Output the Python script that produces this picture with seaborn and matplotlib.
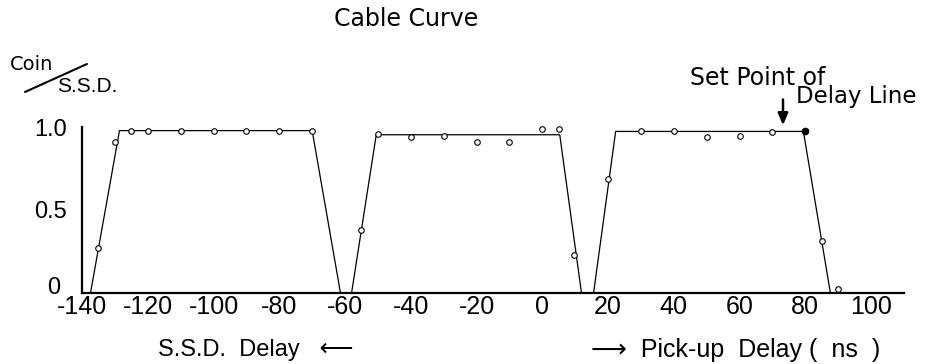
import matplotlib
matplotlib.use('Agg')
import matplotlib.pyplot as plt
from matplotlib.lines import Line2D
from matplotlib.transforms import ScaledTranslation
import seaborn as sns
import pandas as pd

# ---- data ----
pts1_x = [-135, -130, -125, -120, -110, -100, -90, -80, -70]
pts1_y = [0.27, 0.91, 0.98, 0.98, 0.98, 0.98, 0.98, 0.98, 0.98]
pts2_x = [-55, -50, -40, -30, -20, -10, 0, 5, 9.5]
pts2_y = [0.38, 0.96, 0.94, 0.95, 0.91, 0.91, 0.99, 0.99, 0.23]
pts3_x = [20, 30, 40, 50, 60, 70, 85, 90]
pts3_y = [0.69, 0.98, 0.98, 0.94, 0.95, 0.97, 0.31, 0.02]
set_point_x = [80]
set_point_y = [0.975]

fit1_x = [-137.4, -128.6, -70, -61.4]
fit1_y = [0, 0.98, 0.98, 0]
fit2_x = [-58, -50.5, 5.3, 11.9]
fit2_y = [0, 0.955, 0.955, 0]
fit3_x = [15.6, 22.3, 79.4, 87.6]
fit3_y = [0, 0.975, 0.975, 0]

x_ticks = [-140, -120, -100, -80, -60, -40, -20, 0, 20, 40, 60, 80, 100]
x_tick_labels = ['-140', '-120', '-100', '-80', '-60', '-40', '-20', '0', '20', '40', '60', '80', '100']
y_ticks = [0, 0.5, 1.0]
y_tick_labels = ['0', '0.5', '1.0']
arrow_x = 73.2

# ---- style ----
sns.set_style('white')
plt.rcParams['font.family'] = ['DejaVu Sans']
plt.rcParams['text.color'] = 'black'
LIB = ['Liberation Sans', 'DejaVu Sans']

W, H = 930, 364
fig = plt.figure(figsize=(W / 100, H / 100), dpi=100)
ax = fig.add_axes([82 / W, (H - 292.7) / H, 822 / W, 165.4 / H])


def fx(px):
    return px / W


def fy(py):
    return 1 - py / H


fits = pd.concat([
    pd.DataFrame({'x': fit1_x, 'y': fit1_y, 'seg': 'a'}),
    pd.DataFrame({'x': fit2_x, 'y': fit2_y, 'seg': 'b'}),
    pd.DataFrame({'x': fit3_x, 'y': fit3_y, 'seg': 'c'}),
])
sns.lineplot(data=fits, x='x', y='y', units='seg', estimator=None, sort=False,
             color='black', linewidth=0.9, ax=ax, legend=False, clip_on=False)

pts = pd.DataFrame({'x': pts1_x + pts2_x + pts3_x, 'y': pts1_y + pts2_y + pts3_y})
sns.scatterplot(data=pts, x='x', y='y', marker='o', s=16, facecolor='white',
                edgecolor='black', linewidth=0.8, zorder=3, ax=ax, clip_on=False)
sns.scatterplot(x=set_point_x, y=set_point_y, marker='o', s=22, color='black',
                edgecolor='black', linewidth=0.8, zorder=4, ax=ax, clip_on=False)

ax.set_xlim(-140, 110)
ax.set_ylim(0, 1.0)
ax.set_xticks(x_ticks)
ax.set_xticklabels(x_tick_labels, family=LIB, fontsize=18)
ax.set_yticks(y_ticks)
ax.set_yticklabels(y_tick_labels, family=LIB, fontsize=17)
ax.tick_params(axis='x', direction='in', length=5, width=1.5, pad=2, colors='black')
ax.tick_params(axis='y', direction='in', length=6, width=1.5, pad=11, colors='black')
ax.set_xlabel('')
ax.set_ylabel('')
for s in ['top', 'right']:
    ax.spines[s].set_visible(False)
for s in ['left', 'bottom']:
    ax.spines[s].set_linewidth(1.6)
    ax.spines[s].set_color('black')

# nudge the "0" y label up/left like the reference (avoids hitting "-140")
zero_lab = ax.get_yticklabels()[0]
zero_lab.set_transform(zero_lab.get_transform() +
                       ScaledTranslation(-5 / 72, 5 / 72, fig.dpi_scale_trans))

# set point arrow
ax.annotate('', xy=(arrow_x, 0.996), xytext=(arrow_x, 1.185),
            arrowprops=dict(arrowstyle='-|>,head_length=0.7,head_width=0.3',
                            color='black', lw=1.8), annotation_clip=False)

# texts
fig.text(fx(406), fy(19), 'Cable Curve', ha='center', va='center', fontsize=17)
fig.text(fx(690), fy(78), 'Set Point of', ha='left', va='center', fontsize=17)
fig.text(fx(796), fy(97), 'Delay Line', ha='left', va='center', fontsize=16.5)

fig.text(fx(10), fy(64), 'Coin', ha='left', va='center', fontsize=14)
fig.text(fx(57), fy(87), 'S.S.D.', ha='left', va='center', fontsize=15, family=LIB)
fig.add_artist(Line2D([fx(25), fx(87)], [fy(92), fy(64)], color='black', lw=1.5,
                      transform=fig.transFigure))

fig.text(fx(158), fy(350), 'S.S.D.  Delay   \u27f5', ha='left', va='center',
         fontsize=17, family=LIB)
fig.text(fx(591), fy(350), '\u27f6  Pick-up  Delay (  ns  )', ha='left', va='center',
         fontsize=18, family=LIB)

fig.savefig('out.png', dpi=100)
